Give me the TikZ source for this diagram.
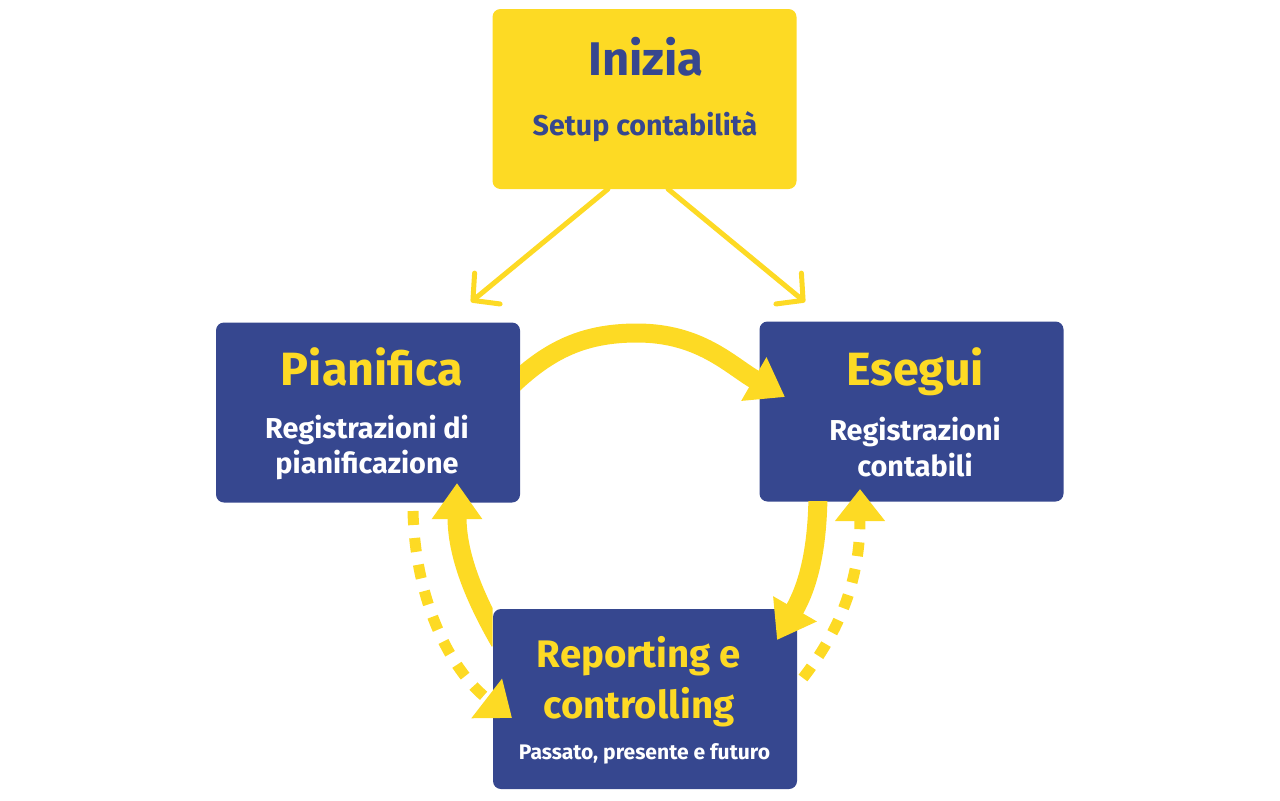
\documentclass[tikz,border=0pt]{standalone}
\usepackage{fontspec}
\setmainfont{Fira Sans}
\usetikzlibrary{arrows.meta}
\definecolor{cyel}{RGB}{253,218,36}
\definecolor{cblue}{RGB}{54,71,143}
\begin{document}
\begin{tikzpicture}[x=0.75pt,y=0.75pt,
  box/.style={rectangle, rounded corners=6pt, minimum width=228pt, minimum height=135pt, inner sep=0pt},
  ybox/.style={box, fill=cyel},
  bbox/.style={box, fill=cblue},
  lbl/.style={anchor=base, inner sep=0pt, font=\bfseries},
  bigarrow/.style={cyel, line width=14.25pt, -{Triangle[length=27pt,width=36pt]}},
  dasharrow/.style={cyel, line width=8.25pt, dash pattern=on 10.5pt off 9.75pt, -{Triangle[length=24pt,width=36pt]}},
  thinarrow/.style={cyel, line width=3.75pt, line cap=round, -{Straight Barb[length=14pt,width=30pt,round]}}
]
\useasboundingbox (0,0) rectangle (1280,-800);
% boxes
\node[ybox] (inizia) at (644.5,-99) {};
\node[bbox] (pian) at (368,-412.5) {};
\node[bbox] (eseg) at (911.5,-411.5) {};
\node[bbox] (rep) at (645,-699) {};
% texts
\node[lbl, text=cblue, font=\bfseries\fontsize{35.4}{40}\selectfont] (t1) at (646,-75) {Inizia};
\node[lbl, text=cblue, font=\bfseries\fontsize{21.5}{25}\selectfont] (t2) at (645,-135) {Setup contabilità};
\node[lbl, text=cyel, font=\bfseries\fontsize{35}{40}\selectfont] (p1) at (372,-385) {Pianifica};
\node[lbl, text=white, font=\bfseries\fontsize{21.6}{25}\selectfont] (p2) at (367,-438) {Registrazioni di};
\node[lbl, text=white, font=\bfseries\fontsize{21.6}{25}\selectfont] (p3) at (367,-473) {pianificazione};
\node[lbl, text=cyel, font=\bfseries\fontsize{35}{40}\selectfont] (e1) at (915,-385) {Esegui};
\node[lbl, text=white, font=\bfseries\fontsize{21.6}{25}\selectfont] (e2) at (915,-440) {Registrazioni};
\node[lbl, text=white, font=\bfseries\fontsize{21.6}{25}\selectfont] (e3) at (915,-476) {contabili};
\node[lbl, text=cyel, font=\bfseries\fontsize{28.8}{33}\selectfont] (r1) at (639,-667) {Reporting e};
\node[lbl, text=cyel, font=\bfseries\fontsize{28.8}{33}\selectfont] (r2) at (639,-718) {controlling};
\node[lbl, text=white, font=\bfseries\fontsize{15.8}{18}\selectfont] (r3) at (644.5,-759) {Passato, presente e futuro};
% anchor coordinates
\coordinate (a1s) at (608,-189);
\coordinate (a1e) at (471,-302);
\coordinate (a2s) at (668,-189);
\coordinate (a2e) at (805,-302);
\coordinate (topS) at (505,-392);
\coordinate (topM) at (637,-333);
\coordinate (topE) at (785,-397);
\coordinate (rS) at (818,-490);
\coordinate (rE) at (777,-640);
\coordinate (lS) at (500,-642);
\coordinate (lE) at (457,-483);
\coordinate (ldS) at (413,-511);
\coordinate (ldE) at (512,-718);
\coordinate (rdS) at (803,-678);
\coordinate (rdE) at (860,-489);
% thin arrows
\draw[thinarrow] (a1s) -- (a1e);
\draw[thinarrow] (a2s) -- (a2e);
% big arrows
\begin{scope}
  \clip (520,0) rectangle (1280,-800);
  \draw[bigarrow] (topS) to[out=45,in=180] (topM) to[out=0,in=150] (topE);
\end{scope}
\begin{scope}
  \clip (0,-501) rectangle (1280,-800);
  \draw[bigarrow] (rS) to[out=-90,in=60] (rE);
\end{scope}
\begin{scope}
  \clip (0,0) rectangle (492.5,-800);
  \draw[bigarrow] (lS) to[out=120,in=-90] (lE);
\end{scope}
% dashed arrows
\draw[dasharrow] (ldS) .. controls (415,-600) and (450,-670) .. (ldE);
\draw[dasharrow] (rdS) .. controls (840,-630) and (860,-580) .. (rdE);
\end{tikzpicture}
\end{document}
